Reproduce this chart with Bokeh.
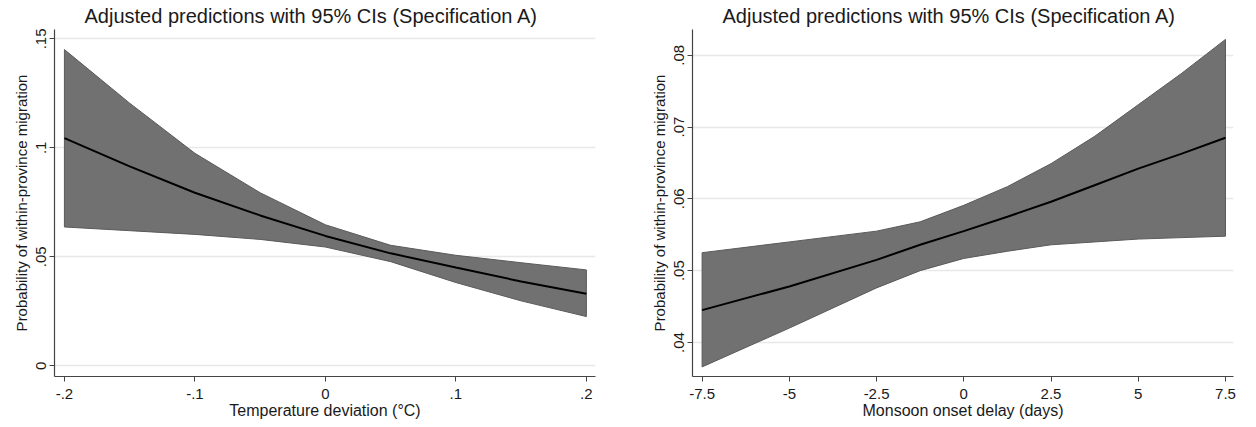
from bokeh.plotting import figure
from bokeh.layouts import row
from bokeh.models import Range1d, FixedTicker
from bokeh.embed import file_html
from bokeh.resources import INLINE

TITLE = "Adjusted predictions with 95% CIs (Specification A)"
Y_LABEL = "Probability of within-province migration"

# Left panel: temperature deviation
temp_x = [-0.2, -0.15, -0.1, -0.05, 0.0, 0.05, 0.1, 0.15, 0.2]
temp_pred = [0.1045, 0.0915, 0.0794, 0.0690, 0.0596, 0.0516, 0.0451, 0.0387, 0.0331]
temp_upper = [0.1451, 0.1205, 0.0975, 0.0794, 0.0647, 0.0553, 0.0507, 0.0473, 0.0440]
temp_lower = [0.0637, 0.0620, 0.0603, 0.0580, 0.0545, 0.0478, 0.0382, 0.0298, 0.0226]
temp_xticks = [-0.2, -0.1, 0.0, 0.1, 0.2]
temp_xtick_labels = ["-.2", "-.1", "0", ".1", ".2"]
temp_yticks = [0.0, 0.05, 0.1, 0.15]
temp_ytick_labels = ["0", ".05", ".1", ".15"]
temp_xlabel = "Temperature deviation (°C)"

# Right panel: monsoon onset delay
mon_x = [-7.5, -5.0, -2.5, -1.25, 0.0, 1.25, 2.5, 3.75, 5.0, 6.25, 7.5]
mon_pred = [0.0445, 0.0478, 0.0515, 0.0536, 0.0555, 0.0575, 0.0596, 0.0619, 0.0642, 0.0663, 0.0685]
mon_upper = [0.0525, 0.0540, 0.0555, 0.0568, 0.0591, 0.0617, 0.0649, 0.0687, 0.0731, 0.0775, 0.0822]
mon_lower = [0.0366, 0.0420, 0.0476, 0.0500, 0.0517, 0.0527, 0.0536, 0.0540, 0.0544, 0.0546, 0.0548]
mon_xticks = [-7.5, -5.0, -2.5, 0.0, 2.5, 5.0, 7.5]
mon_xtick_labels = ["-7.5", "-5", "-2.5", "0", "2.5", "5", "7.5"]
mon_yticks = [0.04, 0.05, 0.06, 0.07, 0.08]
mon_ytick_labels = [".04", ".05", ".06", ".07", ".08"]
mon_xlabel = "Monsoon onset delay (days)"

FONT = "Liberation Sans"


def panel(x, pred, upper, lower, xticks, xlabels, yticks, ylabels, xlabel,
          xr, yr, border_left, border_right):
    p = figure(width=10, height=10, frame_width=541, frame_height=347,
               x_range=Range1d(*xr), y_range=Range1d(*yr),
               output_backend="svg", toolbar_location=None,
               min_border_left=border_left, min_border_right=border_right,
               min_border_top=0, min_border_bottom=0)
    p.title.text = TITLE
    p.title.align = "left"
    p.title.offset = 30
    p.title.text_font = FONT
    p.title.text_font_size = "20px"
    p.title.text_font_style = "normal"
    p.title.text_color = "#1a1a1a"
    p.title.standoff = 5
    p.outline_line_color = None
    p.background_fill_color = "white"
    p.border_fill_color = "white"

    xs = list(x) + list(x)[::-1]
    ys = list(upper) + list(lower)[::-1]
    p.patch(xs, ys, fill_color="#717171", line_color="#5a5a5a", line_width=1)
    p.line(x, pred, line_color="black", line_width=2)

    p.xaxis.ticker = FixedTicker(ticks=xticks)
    p.xaxis.major_label_overrides = {t: l for t, l in zip(xticks, xlabels)}
    p.yaxis.ticker = FixedTicker(ticks=yticks)
    p.yaxis.major_label_overrides = {t: l for t, l in zip(yticks, ylabels)}
    p.yaxis.major_label_orientation = "vertical"
    p.xaxis.axis_label = xlabel
    p.yaxis.axis_label = Y_LABEL

    for ax in (p.xaxis, p.yaxis):
        ax.axis_line_color = "#444444"
        ax.axis_line_width = 1.2
        ax.major_tick_line_color = "#444444"
        ax.major_tick_out = 5
        ax.major_tick_in = 0
        ax.minor_tick_line_color = None
        ax.major_label_text_font = FONT
        ax.major_label_text_font_size = "15px"
        ax.major_label_text_color = "#1a1a1a"
        ax.axis_label_text_font = FONT
        ax.axis_label_text_font_style = "normal"
        ax.axis_label_text_color = "#1a1a1a"
        ax.axis_label_standoff = 0
    p.xaxis.axis_label_text_font_size = "16px"
    p.yaxis.axis_label_text_font_size = "15px"
    p.xaxis.major_label_standoff = 7
    p.yaxis.major_label_standoff = 3
    p.yaxis.axis_label_standoff = 4

    p.xgrid.grid_line_color = None
    p.ygrid.grid_line_color = "#e8e8e8"
    p.ygrid.grid_line_width = 1.5
    return p


left = panel(temp_x, temp_pred, temp_upper, temp_lower,
             temp_xticks, temp_xtick_labels, temp_yticks, temp_ytick_labels,
             temp_xlabel, (-0.2076, 0.207), (-0.0049, 0.1543), 54, 40)
right = panel(mon_x, mon_pred, mon_upper, mon_lower,
              mon_xticks, mon_xtick_labels, mon_yticks, mon_ytick_labels,
              mon_xlabel, (-7.775, 7.73), (0.03526, 0.08358), 57, 15)

layout = row(left, right)
open("out.html", "w").write(file_html(layout, INLINE))
